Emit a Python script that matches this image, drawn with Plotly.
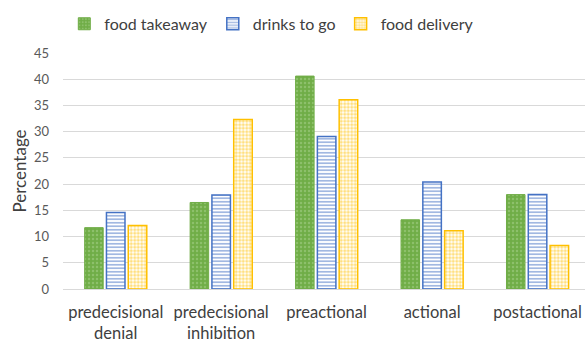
import plotly.graph_objects as go

categories = ["predecisional<br>denial", "predecisional<br>inhibition", "preactional", "actional", "postactional"]
food_takeaway = [11.7, 16.5, 40.6, 13.2, 18.0]
drinks_to_go = [14.6, 17.9, 29.1, 20.4, 18.0]
food_delivery = [12.1, 32.3, 36.1, 11.1, 8.3]
y_ticks = [0, 5, 10, 15, 20, 25, 30, 35, 40, 45]

FONT = "Lato"

fig = go.Figure()
fig.add_trace(go.Bar(
    name="food takeaway", x=categories, y=food_takeaway,
    marker=dict(color="#70AD47", line=dict(color="#70AD47", width=1),
                pattern=dict(shape=".", fgcolor="#A9D18E", bgcolor="#70AD47", size=4, solidity=0.3)),
))
fig.add_trace(go.Bar(
    name="drinks to go", x=categories, y=drinks_to_go,
    marker=dict(color="#4472C4", line=dict(color="#4472C4", width=1.5),
                pattern=dict(shape="-", fgcolor="#4472C4", bgcolor="#FFFFFF", size=3.5, solidity=0.5)),
))
fig.add_trace(go.Bar(
    name="food delivery", x=categories, y=food_delivery,
    marker=dict(color="#FFC000", line=dict(color="#FFC000", width=1.5),
                pattern=dict(shape=".", fgcolor="#FFC000", bgcolor="#FFFFFF", size=3.5, solidity=0.6)),
))

fig.update_layout(
    width=585, height=343,
    margin=dict(l=63, r=0, t=53, b=54),
    paper_bgcolor="white", plot_bgcolor="white",
    barmode="group", bargap=0.38, bargroupgap=0.15,
    font=dict(family=FONT, color="#404040"),
    legend=dict(orientation="h", x=0.40, xanchor="center", y=0.98, yanchor="top",
                yref="container", font=dict(size=16, color="#404040"),
                itemwidth=30, tracegroupgap=0),
    xaxis=dict(range=[-0.5, 4.45], showgrid=False, showline=False, ticks="",
               automargin=False, ticklabelstandoff=11,
               tickfont=dict(size=16.5, color="#404040")),
    yaxis=dict(range=[0, 45], tickvals=y_ticks, showgrid=True, gridcolor="#D9D9D9", gridwidth=1,
               zeroline=True, zerolinecolor="#D9D9D9", zerolinewidth=1, automargin=False,
               tickfont=dict(size=13, color="#595959"), ticklabelstandoff=13,
               title=dict(text="Percentage", font=dict(size=17, color="#404040"), standoff=2)),
)

fig.write_html("out.html")
